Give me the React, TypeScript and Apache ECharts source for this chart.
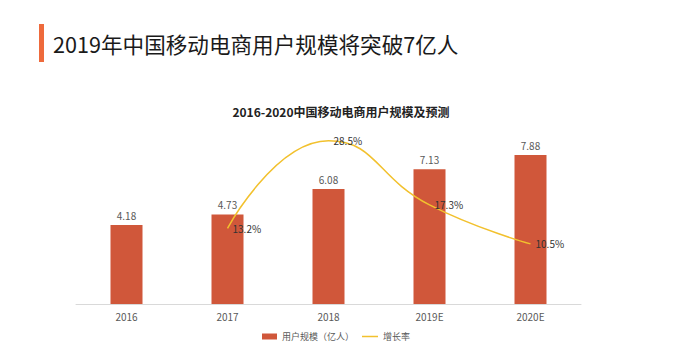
import React, { useEffect, useRef } from "react";
import * as echarts from "echarts";

const categories = ["2016", "2017", "2018", "2019E", "2020E"];
const users = [4.18, 4.73, 6.08, 7.13, 7.88];
const growth = [null, 13.2, 28.5, 17.3, 10.5];
const pageTitle = "2019年中国移动电商用户规模将突破7亿人";
const chartTitle = "2016-2020中国移动电商用户规模及预测";
const seriesNames = ["用户规模（亿人）", "增长率"];

const FONT = '"Noto Sans CJK SC", "Noto Sans", sans-serif';

export default function App() {
  const ref = useRef<HTMLDivElement>(null);
  useEffect(() => {
    if (!ref.current) return;
    const chart = echarts.init(ref.current, null, { renderer: "svg" });
    chart.setOption({
      animation: false,
      backgroundColor: "#ffffff",
      textStyle: { fontFamily: FONT },
      graphic: [
        { type: "rect", shape: { x: 39, y: 24, width: 5, height: 38 }, style: { fill: "#EE6A3C" } },
        {
          type: "text",
          x: 53,
          y: 43,
          style: { text: pageTitle, fontSize: 21.6, fill: "#1a1a1a", fontFamily: FONT, verticalAlign: "middle" },
        },
        {
          type: "text",
          x: 341,
          y: 111,
          style: {
            text: chartTitle,
            fontSize: 12,
            fontWeight: "bold",
            fill: "#222222",
            fontFamily: FONT,
            align: "center",
            verticalAlign: "middle",
          },
        },
      ],
      legend: [
        {
          left: 257,
          top: 327,
          itemWidth: 15,
          itemHeight: 6,
          textStyle: { fontSize: 9, color: "#595959", fontFamily: FONT },
          data: [{ name: seriesNames[0], icon: "rect" }],
        },
        {
          left: 357,
          top: 327,
          itemWidth: 16,
          itemHeight: 1.5,
          textStyle: { fontSize: 9, color: "#595959", fontFamily: FONT },
          data: [{ name: seriesNames[1], icon: "rect" }],
        },
      ],
      grid: { left: 76, right: 97, top: 115, bottom: 53 },
      xAxis: {
        type: "category",
        data: categories,
        axisLine: { lineStyle: { color: "#d9d9d9" } },
        axisTick: { show: false },
        axisLabel: { color: "#595959", fontSize: 10, margin: 7 },
      },
      yAxis: [
        { type: "value", min: 0, max: 10, show: false, splitLine: { show: false } },
        { type: "value", min: 0, max: 33, show: false, splitLine: { show: false } },
      ],
      series: [
        {
          name: seriesNames[0],
          type: "bar",
          data: users,
          barWidth: 32,
          itemStyle: { color: "#D0573A" },
          label: { show: true, position: "top", distance: 5, color: "#595959", fontSize: 10 },
        },
        {
          name: seriesNames[1],
          type: "line",
          yAxisIndex: 1,
          data: growth,
          smooth: 0.5,
          symbol: "circle",
          symbolSize: 0,
          showSymbol: true,
          lineStyle: { color: "#F2C12E", width: 1.5 },
          itemStyle: { color: "#F2C12E" },
          label: {
            show: true,
            position: "right",
            distance: 5,
            color: "#333333",
            fontSize: 10,
            formatter: "{c}%",
          },
        },
      ],
    });
    return () => chart.dispose();
  }, []);
  return (
    <div
      ref={ref}
      style={{ position: "fixed", left: 0, top: 0, width: 678, height: 357, background: "#fff" }}
    />
  );
}
